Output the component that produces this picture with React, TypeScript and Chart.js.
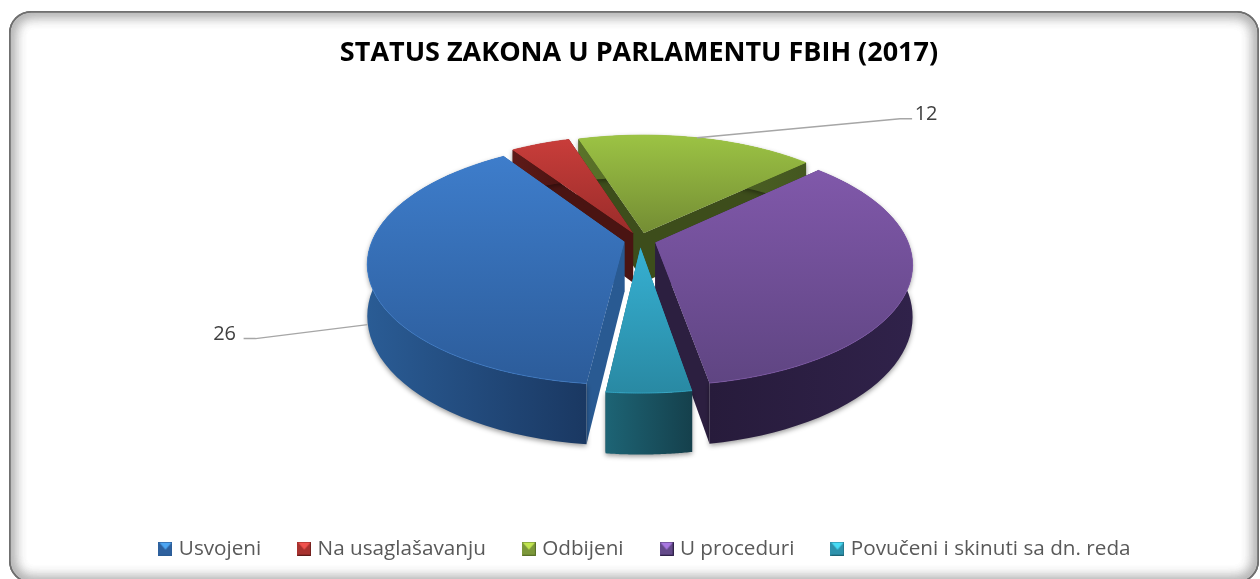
import React, { useEffect, useRef } from "react";
import { Chart, registerables } from "chart.js";

Chart.register(...registerables);

const categories = ["Usvojeni", "Na usaglašavanju", "Odbijeni", "U proceduri", "Povučeni i skinuti sa dn. reda"];
const values = [26, 3, 12, 23, 3];
const labelled = [true, false, true, false, false];
const titleText = "STATUS ZAKONA U PARLAMENTU FBIH (2017)";

const topLight = ["#3e7dcb", "#c83d3a", "#9cc344", "#8058aa", "#36b0d2"];
const topDark = ["#2c5c9a", "#9a2c2a", "#748d34", "#5f4582", "#2989a3"];
const wallLight = ["#2a5c95", "#5e1a18", "#5a7229", "#30224a", "#1d6475"];
const wallDark = ["#1a3862", "#4a1311", "#445720", "#271b3b", "#15404c"];
const radialWall = ["#295a92", "#4a1412", "#3d4d1b", "#2c1f40", "#1a5565"];
const swatchLight = ["#4ea6f2", "#f0524e", "#c2e650", "#a877e0", "#48dcf4"];
const swatchDark = ["#2e619e", "#a8322f", "#7c983a", "#644a8a", "#2e92ac"];
const paintOrder = [2, 1, 0, 3, 4];

const CX = 640;
const CY = 240;
const TILT = 0.465;
const PERSP = 0.175;
const DEPTH = 50;
const EXPLODE = 16;
const RADIUS = 252;
const STEP = (8 * Math.PI) / 180;

const persp = (Y: number) => 1 / (1 - (PERSP * Y) / RADIUS);
const project = (X: number, Y: number): [number, number] => {
  const f = persp(Y);
  return [CX + X * f, CY + TILT * Y * f];
};

type Pt = [number, number];

function sliceGeometry(arc: any) {
  const a0 = arc.startAngle;
  const a1 = arc.endAngle;
  const mid = (a0 + a1) / 2;
  const r = arc.outerRadius;
  const ox = Math.cos(mid) * EXPLODE;
  const oy = Math.sin(mid) * EXPLODE;
  const apex = project(ox, oy);
  const onArc = (ang: number): Pt => project(ox + r * Math.cos(ang), oy + r * Math.sin(ang));
  const depthAt = (ang: number) => DEPTH * persp(oy + r * Math.sin(ang));
  // affine map of the sub-wedge [s, e] of the flat arc to its place on the tilted plane
  const affine = (s: number, e: number) => {
    const d1 = onArc(s);
    const d2 = onArc(e);
    const ux = r * Math.cos(s), uy = r * Math.sin(s);
    const vx = r * Math.cos(e), vy = r * Math.sin(e);
    const det = ux * vy - uy * vx;
    const ix = [vy / det, -uy / det];
    const iy = [-vx / det, ux / det];
    const ex = [d1[0] - apex[0], d1[1] - apex[1]];
    const ey = [d2[0] - apex[0], d2[1] - apex[1]];
    const a = ex[0] * ix[0] + ey[0] * ix[1];
    const b = ex[1] * ix[0] + ey[1] * ix[1];
    const c = ex[0] * iy[0] + ey[0] * iy[1];
    const d = ex[1] * iy[0] + ey[1] * iy[1];
    const tx = apex[0] - a * arc.x - c * arc.y;
    const ty = apex[1] - b * arc.x - d * arc.y;
    const det2 = a * d - b * c;
    const toPlane = (x: number, y: number): Pt => [
      (d * (x - tx) - c * (y - ty)) / det2,
      (-b * (x - tx) + a * (y - ty)) / det2,
    ];
    return { m: [a, b, c, d, tx, ty], toPlane };
  };
  return { a0, a1, mid, ox, oy, apex, r, onArc, depthAt, affine };
}

const pseudo3d = {
  id: "pseudo3d",
  afterLayout(chart: any) {
    chart.legend.left += 7.5;
    chart.legend.right += 7.5;
  },
  beforeDraw(chart: any) {
    const ctx = chart.ctx;
    ctx.save();
    ctx.fillStyle = "#ffffff";
    ctx.fillRect(0, 0, chart.width, chart.height);
    ctx.beginPath();
    ctx.roundRect(9, 11, 1250, 572, 22);
    ctx.clip();
    ctx.strokeStyle = "#707070";
    ctx.lineWidth = 3;
    ctx.shadowColor = "rgba(0,0,0,0.8)";
    ctx.shadowBlur = 14;
    for (let n = 0; n < 2; n++) {
      ctx.beginPath();
      ctx.roundRect(9, 11, 1250, 572, 22);
      ctx.stroke();
    }
    ctx.restore();
  },
  beforeDatasetsDraw(chart: any) {
    const ctx = chart.ctx;
    const arcs = chart.getDatasetMeta(0).data;
    for (const i of paintOrder) {
      const arc = arcs[i];
      const g = sliceGeometry(arc);
      const samples: Pt[] = [];
      const bottoms: Pt[] = [];
      for (let s = 0; s <= 48; s++) {
        const ang = g.a0 + ((g.a1 - g.a0) * s) / 48;
        const p = g.onArc(ang);
        samples.push(p);
        bottoms.push([p[0], p[1] + g.depthAt(ang)]);
      }
      const apex = g.apex;
      const apexB: Pt = [apex[0], apex[1] + DEPTH * persp(g.oy)];

      ctx.save();
      ctx.fillStyle = radialWall[i];
      for (const [p, b] of [[samples[0], bottoms[0]], [samples[48], bottoms[48]]] as [Pt, Pt][]) {
        ctx.beginPath();
        ctx.moveTo(apex[0], apex[1]);
        ctx.lineTo(p[0], p[1]);
        ctx.lineTo(b[0], b[1]);
        ctx.lineTo(apexB[0], apexB[1]);
        ctx.closePath();
        ctx.fill();
      }
      const xs = samples.map((p) => p[0]);
      const ys = samples.map((p) => p[1]);
      const minX = Math.min(...xs), maxX = Math.max(...xs);
      const grad = ctx.createLinearGradient(minX, 0, maxX, 0);
      grad.addColorStop(0, i === 3 ? wallDark[i] : wallLight[i]);
      grad.addColorStop(1, i === 3 ? wallLight[i] : wallDark[i]);
      ctx.fillStyle = grad;
      ctx.shadowColor = "rgba(0,0,0,0.4)";
      ctx.shadowBlur = 5;
      ctx.shadowOffsetY = 2;
      ctx.beginPath();
      samples.forEach((p, n) => (n ? ctx.lineTo(p[0], p[1]) : ctx.moveTo(p[0], p[1])));
      for (let n = 48; n >= 0; n--) ctx.lineTo(bottoms[n][0], bottoms[n][1]);
      ctx.closePath();
      ctx.fill();
      ctx.restore();

      // top face: the library's own arc element, seen through piecewise transforms
      const minY = Math.min(apex[1], ...ys);
      const maxY = Math.max(apex[1], ...ys);

      // underlay so that the joins of the pieces never show the wall beneath
      const under = ctx.createLinearGradient(0, minY, 0, maxY);
      under.addColorStop(0, topLight[i]);
      under.addColorStop(1, topDark[i]);
      ctx.save();
      ctx.fillStyle = under;
      ctx.beginPath();
      ctx.moveTo(apex[0], apex[1]);
      samples.forEach((p) => ctx.lineTo(p[0], p[1]));
      ctx.closePath();
      ctx.fill();
      ctx.restore();

      const pieces = Math.max(1, Math.ceil((g.a1 - g.a0) / STEP));
      const dA = (g.a1 - g.a0) / pieces;
      for (let n = 0; n < pieces; n++) {
        const s = g.a0 + n * dA;
        const e = s + dA;
        const { m, toPlane } = g.affine(s, e);
        const p0 = toPlane(CX, minY);
        const p1 = toPlane(CX, maxY);
        const h0 = toPlane(CX + 1, minY);
        let nx = -(h0[1] - p0[1]);
        let ny = h0[0] - p0[0];
        const nl = Math.hypot(nx, ny);
        nx /= nl;
        ny /= nl;
        const t = (p1[0] - p0[0]) * nx + (p1[1] - p0[1]) * ny;
        ctx.save();
        ctx.transform(m[0], m[1], m[2], m[3], m[4], m[5]);
        const pad = n === pieces - 1 ? 0 : dA * 0.15;
        ctx.beginPath();
        ctx.moveTo(arc.x, arc.y);
        ctx.arc(arc.x, arc.y, g.r * 1.2, s, e + pad);
        ctx.closePath();
        ctx.clip();
        const fill = ctx.createLinearGradient(p0[0], p0[1], p0[0] + nx * t, p0[1] + ny * t);
        fill.addColorStop(0, topLight[i]);
        fill.addColorStop(1, topDark[i]);
        arc.options.backgroundColor = fill;
        arc.options.borderWidth = 0;
        arc.draw(ctx);
        ctx.restore();
      }

      // thin lighter rim along the outer edge of the top face
      ctx.save();
      ctx.strokeStyle = topLight[i];
      ctx.globalAlpha = 0.7;
      ctx.lineWidth = 1;
      ctx.beginPath();
      samples.forEach((p, n) => (n ? ctx.lineTo(p[0], p[1]) : ctx.moveTo(p[0], p[1])));
      ctx.stroke();
      ctx.restore();
    }

    // data labels with leader lines
    const leaders: Record<number, { wall: number; elbow: Pt; text: Pt }> = {
      0: { wall: 1.03, elbow: [-112, 14], text: [-143, 10] },
      2: { wall: 0, elbow: [203, -19], text: [229, -23] },
    };
    ctx.save();
    ctx.font = "20px 'Open Sans'";
    ctx.textAlign = "center";
    ctx.textBaseline = "middle";
    labelled.forEach((on, i) => {
      if (!on) return;
      const g = sliceGeometry(arcs[i]);
      const p = g.onArc(g.mid);
      const l = leaders[i];
      const ax = p[0];
      const ay = p[1] + g.depthAt(g.mid) * l.wall;
      const dir = Math.sign(l.elbow[0]);
      ctx.strokeStyle = "#a6a6a6";
      ctx.lineWidth = 1.5;
      ctx.beginPath();
      ctx.moveTo(ax, ay);
      ctx.lineTo(ax + l.elbow[0], ay + l.elbow[1]);
      ctx.lineTo(ax + l.elbow[0] + dir * 12, ay + l.elbow[1]);
      ctx.stroke();
      ctx.fillStyle = "#404040";
      ctx.fillText(String(values[i]), ax + l.text[0], ay + l.text[1]);
    });
    ctx.restore();
    return false;
  },
};

function makeSwatch(i: number) {
  const c = document.createElement("canvas");
  c.width = 14;
  c.height = 14;
  const x = c.getContext("2d")!;
  x.fillStyle = swatchDark[i];
  x.fillRect(0, 0, 14, 14);
  x.strokeStyle = wallLight[i];
  x.beginPath();
  x.moveTo(0.5, 13.5);
  x.lineTo(13.5, 13.5);
  x.lineTo(13.5, 0.5);
  x.stroke();
  x.fillStyle = swatchLight[i];
  x.beginPath();
  x.moveTo(1, 1);
  x.lineTo(13, 1);
  x.lineTo(7, 8);
  x.closePath();
  x.fill();
  return c;
}

export default function App() {
  const ref = useRef<HTMLCanvasElement>(null);
  useEffect(() => {
    const swatches = categories.map((_, i) => makeSwatch(i));
    const chart = new Chart(ref.current!, {
      type: "pie",
      data: {
        labels: categories,
        datasets: [
          {
            data: values,
            backgroundColor: topLight,
            borderWidth: 0,
            radius: RADIUS,
            rotation: 186.5,
          } as any,
        ],
      },
      options: {
        responsive: false,
        animation: false,
        layout: { padding: { top: 37, bottom: 10, left: 18 } },
        plugins: {
          title: {
            display: true,
            text: titleText,
            color: "#000000",
            font: { family: "'Open Sans'", size: 27, weight: "bold" },
            padding: { top: 0, bottom: 10 },
          },
          legend: {
            position: "bottom",
            labels: {
              usePointStyle: true,
              pointStyleWidth: 6,
              padding: 40,
              color: "#595959",
              font: { family: "'Open Sans'", size: 20.7 },
              generateLabels: () =>
                categories.map((text, i) => ({
                  text,
                  fontColor: "#595959",
                  pointStyle: swatches[i],
                  fillStyle: topLight[i],
                  strokeStyle: topLight[i],
                  lineWidth: 0,
                  hidden: false,
                  index: i,
                })),
            },
          },
          tooltip: { enabled: false },
        },
      },
      plugins: [pseudo3d],
    } as any);
    return () => chart.destroy();
  }, []);
  return (
    <canvas
      ref={ref}
      width={1260}
      height={579}
      style={{ position: "fixed", left: 0, top: 0, display: "block" }}
    />
  );
}
